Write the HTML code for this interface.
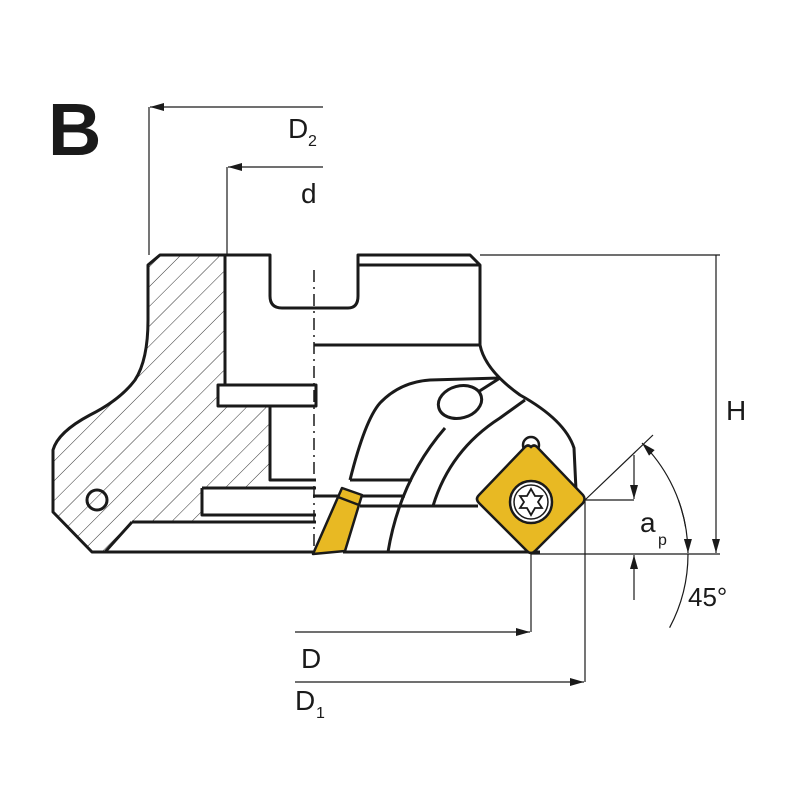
<!DOCTYPE html>
<html><head><style>html,body{margin:0;padding:0;background:#fff}svg{display:block}</style></head>
<body>
<svg width="800" height="800" viewBox="0 0 800 800" xmlns="http://www.w3.org/2000/svg" font-family="Liberation Sans, sans-serif">
<defs>
<pattern id="h" patternUnits="userSpaceOnUse" width="14" height="14" patternTransform="rotate(45)">
<line x1="0" y1="0" x2="0" y2="14" stroke="#333" stroke-width="1"/>
</pattern>
<marker id="a" markerWidth="14" markerHeight="8" refX="14" refY="4" orient="auto" markerUnits="userSpaceOnUse">
<path d="M0,0 L14,4 L0,8 Z" fill="#1a1a1a"/></marker>
</defs>
<text x="48" y="155" font-size="74" font-weight="bold" fill="#1a1a1a">B</text>
<path d="M160,255 L225,255 L225,385 L218,385 L218,406 L270,406 L270,480 L265,488 L202,488 L202,515 L210,522 L132,522 L105,552 L92,552 L53,512 L53,450 Q58,432 90,415 Q120,400 135,380 Q148,360 148,320 L148,265 Z" fill="url(#h)" stroke="none"/>
<g fill="none" stroke="#1a1a1a" stroke-width="3" stroke-linejoin="round">
<path d="M148,320 L148,265 L160,255 L270,255 L270,296 Q270,308 282,308 L348,308 Q358,308 358,296 L358,255 L470,255 L480,265 L480,345 Q485,370 520,395 Q565,420 574,448 L576,490"/>
<path d="M148,320 Q148,360 135,380 Q120,400 90,415 Q58,432 53,450 L53,512 L92,552 L313,552"/>
<path d="M358,265 L480,265"/>
<path d="M225,255 L225,385 M218,385 L316,385 L316,406 L218,406 Z M270,406 L270,480 L316,480 M202,488 L316,488 M202,488 L202,515 L316,515 M132,522 L316,522 M132,522 L105,552"/>
<path d="M314,345 L480,345"/>
<path d="M350,480 Q365,420 380,403 Q400,382 430,380 L500,378"/>
<path d="M388,552 Q400,480 445,428"/>
<path d="M433,506 Q450,450 500,418 L525,400"/>
<ellipse cx="460" cy="402" rx="22" ry="16" transform="rotate(-15 460 402)"/>
<path d="M478,392 L500,378"/>
<path d="M350,480 L412,480 M313,496 L405,496 M360,506 L478,506 M343,552 L540,552"/>
<circle cx="97" cy="500" r="10"/>
</g>
<line x1="314" y1="270" x2="314" y2="555" stroke="#1a1a1a" stroke-width="1.5" stroke-dasharray="12,5,2,5"/>
<path d="M313,554 L342,488 L362,495 L345,551 Z" fill="#E8B923" stroke="#1a1a1a" stroke-width="2.5" stroke-linejoin="round"/>
<path d="M338,497 L359,505" stroke="#1a1a1a" stroke-width="2.5"/>
<circle cx="531" cy="445" r="8" fill="#fff" stroke="#1a1a1a" stroke-width="2.5"/>
<path d="M531,447 Q534,444 537,447 L583,495 Q586,499 583,503 L535,551 Q531,555 527,551 L479,503 Q475,499 479,495 L525,447 Q528,444 531,447 Z" fill="#E8B923" stroke="#1a1a1a" stroke-width="2.5"/>
<circle cx="531" cy="502" r="21" fill="#fff" stroke="#1a1a1a" stroke-width="2.5"/>
<circle cx="531" cy="502" r="17" fill="none" stroke="#1a1a1a" stroke-width="1.5"/>
<path d="M531,489 L535,496 L542,496 L538,502 L542,508 L535,508 L531,515 L527,508 L520,508 L524,502 L520,496 L527,496 Z" fill="#fff" stroke="#1a1a1a" stroke-width="1.8"/>
<g stroke="#1a1a1a" stroke-width="1.2" fill="none">
<line x1="149" y1="255" x2="149" y2="107"/><line x1="323" y1="107" x2="150" y2="107" marker-end="url(#a)"/>
<line x1="227" y1="255" x2="227" y2="167"/><line x1="323" y1="167" x2="228" y2="167" marker-end="url(#a)"/>
<line x1="480" y1="255" x2="720" y2="255"/>
<line x1="716" y1="255" x2="716" y2="553" marker-end="url(#a)"/>
<line x1="531" y1="554" x2="720" y2="554"/>
<line x1="585" y1="500" x2="634" y2="500"/>
<line x1="585" y1="500" x2="653" y2="435"/>
<line x1="634" y1="455" x2="634" y2="499" marker-end="url(#a)"/>
<line x1="634" y1="600" x2="634" y2="555" marker-end="url(#a)"/>
<line x1="531" y1="554" x2="531" y2="632"/>
<line x1="585" y1="500" x2="585" y2="682"/>
<line x1="295" y1="632" x2="530" y2="632" marker-end="url(#a)"/>
<line x1="295" y1="682" x2="584" y2="682" marker-end="url(#a)"/>
<path d="M685.6,526.7 A157,157 0 0 0 642,443" marker-end="url(#a)"/>
<path d="M678.5,500.3 A157,157 0 0 1 688,553" marker-end="url(#a)"/>
<path d="M688,554 A157,157 0 0 1 669.6,627.7"/>
</g>
<g fill="#1a1a1a" font-size="28">
<text x="288" y="138">D</text><text x="308" y="146" font-size="16">2</text>
<text x="301" y="203">d</text>
<text x="726" y="420">H</text>
<text x="640" y="532">a</text><text x="658" y="545" font-size="16">p</text>
<text x="688" y="606" font-size="26">45°</text>
<text x="301" y="668">D</text>
<text x="295" y="710">D</text><text x="316" y="718" font-size="16">1</text>
</g>
</svg>
</body></html>
